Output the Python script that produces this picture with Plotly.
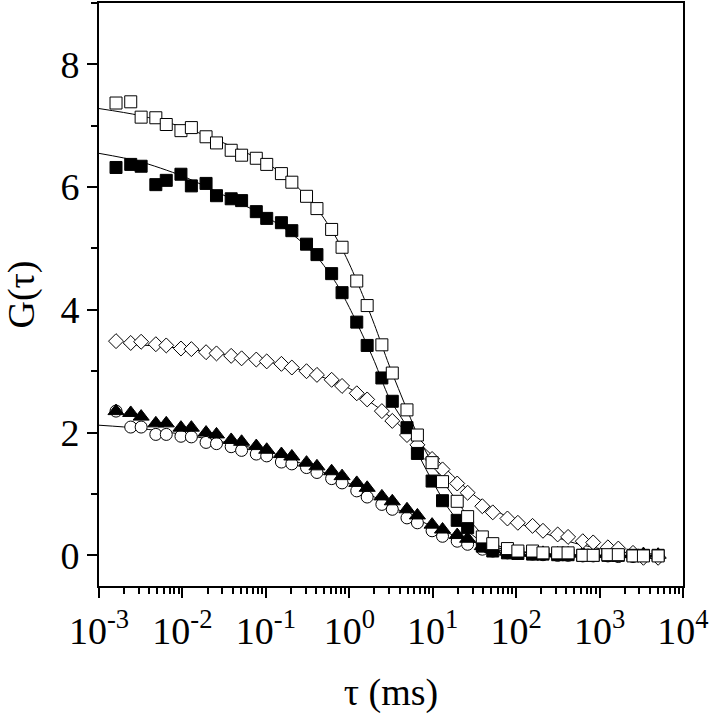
import plotly.graph_objects as go

# lag times (ms) of the correlator channels
tau = [0.0016, 0.0024, 0.0032, 0.0048, 0.0064, 0.0096, 0.0128, 0.0192, 0.0256, 0.0384,
       0.0512, 0.0768, 0.1024, 0.1536, 0.2048, 0.3072, 0.4096, 0.6144, 0.8192, 1.2288,
       1.6384, 2.4576, 3.2768, 4.9152, 6.5536, 9.8304, 13.107, 19.661, 26.214, 39.322,
       52.429, 78.643, 104.86, 157.29, 209.72, 314.57, 419.43, 629.15, 838.86, 1258.3,
       1677.7, 2516.6, 3355.4, 5033.2]

g_open_sq = [7.37, 7.39, 7.14, 7.13, 7.02, 6.92, 6.97, 6.82, 6.72, 6.60,
             6.52, 6.47, 6.37, 6.22, 6.08, 5.85, 5.65, 5.31, 5.02, 4.47,
             4.07, 3.43, 2.97, 2.37, 1.96, 1.51, 1.20, 0.88, 0.63, 0.30,
             0.19, 0.11, 0.07, 0.07, 0.04, 0.04, 0.04, 0.00, 0.00, 0.01,
             0.01, -0.01, -0.01, -0.01]

g_filled_sq = [6.32, 6.37, 6.34, 6.04, 6.11, 6.21, 6.02, 6.06, 5.86, 5.81,
               5.78, 5.60, 5.49, 5.42, 5.29, 5.07, 4.90, 4.59, 4.28, 3.80,
               3.42, 2.89, 2.51, 2.08, 1.66, 1.21, 0.89, 0.57, 0.45, 0.15,
               0.07, 0.04, 0.03, 0.02, 0.02, 0.01, 0.01, 0.00, 0.00, 0.00,
               0.00, 0.00, 0.00, 0.00]

g_diamond = [3.49, 3.46, 3.48, 3.44, 3.42, 3.37, 3.36, 3.31, 3.29, 3.25,
             3.21, 3.19, 3.16, 3.12, 3.06, 3.00, 2.94, 2.86, 2.76, 2.64,
             2.54, 2.35, 2.19, 1.96, 1.80, 1.57, 1.40, 1.17, 1.02, 0.80,
             0.70, 0.60, 0.53, 0.48, 0.40, 0.34, 0.30, 0.23, 0.21, 0.13,
             0.11, 0.04, -0.04, -0.04]

g_triangle = [2.35, 2.32, 2.26, 2.15, 2.15, 2.08, 2.08, 2.00, 1.97, 1.88,
              1.85, 1.78, 1.72, 1.65, 1.61, 1.51, 1.45, 1.37, 1.29, 1.18,
              1.10, 0.96, 0.88, 0.75, 0.65, 0.50, 0.42, 0.33, 0.27, 0.15,
              0.10, 0.06, 0.05, 0.04, 0.04, 0.03, 0.03, 0.03, 0.02, 0.03,
              0.02, 0.02, 0.02, 0.01]

g_circle = [2.35, 2.09, 2.09, 1.97, 1.97, 1.94, 1.93, 1.84, 1.82, 1.77,
            1.71, 1.65, 1.62, 1.52, 1.49, 1.43, 1.35, 1.25, 1.18, 1.05,
            0.95, 0.83, 0.75, 0.61, 0.53, 0.40, 0.31, 0.23, 0.18, 0.10,
            0.07, 0.04, 0.03, 0.02, 0.01, 0.00, 0.00, -0.01, -0.01, -0.01,
            -0.02, -0.02, -0.02, -0.02]

# fitted curves
fit_tau_sq = [0.001, 0.003, 0.01, 0.03, 0.1, 0.2, 0.4, 0.7, 1, 1.5, 2, 3, 5, 7, 10,
              15, 20, 30, 50, 100, 300, 1000, 5000]
fit_open_sq = [7.28, 7.17, 6.98, 6.73, 6.40, 6.10, 5.67, 5.17, 4.75, 4.19, 3.76, 3.10,
               2.35, 1.88, 1.49, 1.10, 0.87, 0.52, 0.21, 0.07, 0.01, 0.0, 0.0]
fit_filled_sq = [6.55, 6.42, 6.18, 5.88, 5.52, 5.25, 4.88, 4.43, 4.04, 3.54, 3.16, 2.57,
                 2.07, 1.60, 1.20, 0.79, 0.57, 0.33, 0.13, 0.03, 0.01, 0.0, 0.0]

fit_tau_dia = [0.002, 0.005, 0.01, 0.03, 0.1, 0.3, 1, 2, 3, 5, 10, 20, 30, 50, 100,
               200, 500, 1000, 2000, 5000]
fit_diamond = [3.44, 3.41, 3.37, 3.28, 3.16, 3.00, 2.72, 2.45, 2.27, 2.00, 1.62, 1.22,
               1.00, 0.78, 0.55, 0.38, 0.20, 0.11, 0.05, 0.02]

fit_tau_cir = [0.001, 0.003, 0.01, 0.03, 0.1, 0.3, 1, 2, 3, 5, 10, 20, 30, 50, 100,
               300, 1000, 5000]
fit_circle = [2.12, 2.07, 1.97, 1.85, 1.70, 1.47, 1.17, 0.95, 0.83, 0.66, 0.47, 0.30,
              0.22, 0.14, 0.07, 0.02, 0.0, 0.0]

x_tickvals = [1e-3, 1e-2, 1e-1, 1e0, 1e1, 1e2, 1e3, 1e4]
x_ticktext = ["10<sup>-3</sup>", "10<sup>-2</sup>", "10<sup>-1</sup>", "10<sup>0</sup>",
              "10<sup>1</sup>", "10<sup>2</sup>", "10<sup>3</sup>", "10<sup>4</sup>"]
y_tickvals = [0, 2, 4, 6, 8]

FONT = "Liberation Serif, Times New Roman, serif"

fig = go.Figure()

for fx, fy in [(fit_tau_sq, fit_open_sq), (fit_tau_sq, fit_filled_sq),
               (fit_tau_dia, fit_diamond), (fit_tau_cir, fit_circle)]:
    fig.add_trace(go.Scatter(x=fx, y=fy, mode="lines",
                             line=dict(color="black", width=1, shape="spline", smoothing=0.8),
                             hoverinfo="skip"))

series = [
    (g_circle, "circle", "white", 12),
    (g_triangle, "triangle-up", "black", 14),
    (g_diamond, "diamond", "white", 11.5),
    (g_filled_sq, "square", "black", 12),
    (g_open_sq, "square", "white", 12),
]
for ys, sym, fill, sz in series:
    fig.add_trace(go.Scatter(x=tau, y=ys, mode="markers",
                             marker=dict(symbol=sym, size=sz, color=fill,
                                         line=dict(color="black", width=1))))

minor_x = [m * 10 ** e for e in range(-3, 4) for m in range(2, 10)]

fig.update_xaxes(type="log", range=[-3, 4], automargin=False,
                 tickmode="array", tickvals=x_tickvals, ticktext=x_ticktext,
                 ticks="outside", ticklen=10, tickwidth=1.5, tickcolor="black",
                 minor=dict(tickmode="array", tickvals=minor_x, ticks="outside",
                            ticklen=6, tickwidth=1.5, tickcolor="black", showgrid=False),
                 showline=True, linecolor="black", linewidth=2, mirror=True,
                 showgrid=False, zeroline=False,
                 tickfont=dict(family=FONT, size=38, color="black"),
                 title=dict(text="τ (ms)", font=dict(family=FONT, size=38, color="black"),
                            standoff=28))

fig.update_yaxes(range=[-0.5, 9.0], automargin=False,
                 tickmode="array", tickvals=y_tickvals,
                 ticks="outside", ticklen=10, tickwidth=1.5, tickcolor="black",
                 minor=dict(dtick=1, tick0=0, ticks="outside", ticklen=6, tickwidth=1.5,
                            tickcolor="black", showgrid=False),
                 showline=True, linecolor="black", linewidth=2, mirror=True,
                 showgrid=False, zeroline=False,
                 tickfont=dict(family=FONT, size=38, color="black"),
                 title=dict(text="G(τ)", font=dict(family=FONT, size=38, color="black"),
                            standoff=29))

fig.update_layout(width=711, height=720, autosize=False,
                  margin=dict(l=99, r=28, t=3, b=134, autoexpand=False),
                  paper_bgcolor="white", plot_bgcolor="white",
                  showlegend=False, font=dict(family=FONT, color="black"))

fig.write_html("out.html", config={"displayModeBar": False},
               post_script="document.body.style.margin='0';")
